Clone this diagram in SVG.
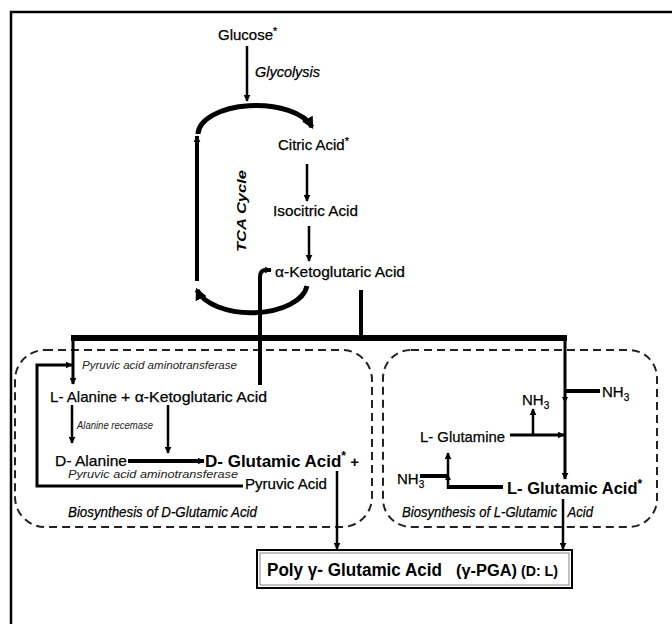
<svg xmlns="http://www.w3.org/2000/svg" width="672" height="624" viewBox="0 0 672 624">
<defs>
<style>
text{font-family:"Liberation Sans",Arial,sans-serif;fill:#000;}
.lab{font-size:15px;stroke:#000;stroke-width:0.25;}
.it{font-style:italic;}
.sm{font-size:10.5px;font-style:italic;fill:#222;}
.bd{font-weight:bold;}
.ln{stroke:#000;fill:none;stroke-linecap:butt;}
.box{stroke:#222;fill:none;stroke-width:2;stroke-dasharray:8 5;}
</style>
<marker id="ah" viewBox="0 0 10 10" refX="9" refY="5" markerUnits="userSpaceOnUse" markerWidth="7" markerHeight="7" orient="auto"><path d="M0,0 L10,5 L0,10 z" fill="#000"/></marker>
<marker id="ahb" viewBox="0 0 10 10" refX="8" refY="5" markerUnits="userSpaceOnUse" markerWidth="12" markerHeight="12" orient="auto"><path d="M0,0 L10,5 L0,10 z" fill="#000"/></marker>
</defs>
<path class="ln" d="M11,624 V12 H672" stroke-width="2.5"/>

<g id="glucose"><text class="lab" x="218" y="40" font-size="14">Glucose<tspan font-size="11" dy="-5">*</tspan></text></g>
<g id="glycolysis"><text class="lab it" x="255" y="77" textLength="65" lengthAdjust="spacingAndGlyphs">Glycolysis</text></g>
<g id="citric"><text class="lab" x="278" y="150" font-size="13.5">Citric Acid<tspan font-size="11" dy="-5">*</tspan></text></g>
<g id="isocitric"><text class="lab" x="273" y="216" textLength="85" lengthAdjust="spacingAndGlyphs">Isocitric Acid</text></g>
<g id="akg"><text class="lab" x="275" y="277" textLength="130" lengthAdjust="spacingAndGlyphs">α-Ketoglutaric Acid</text></g>
<g id="tca"><text class="bd it" font-size="13" transform="translate(246,211) rotate(-90)" text-anchor="middle" textLength="82" lengthAdjust="spacingAndGlyphs">TCA Cycle</text></g>

<g id="dbox">
<rect class="box" x="15" y="350" width="357" height="177" rx="30"/>
<text class="sm" x="82" y="369" textLength="155" lengthAdjust="spacingAndGlyphs">Pyruvic acid aminotransferase</text>
<text class="lab" x="50" y="402" textLength="67" lengthAdjust="spacingAndGlyphs">L- Alanine</text>
<text class="lab" x="121" y="402" textLength="146" lengthAdjust="spacingAndGlyphs">+ α-Ketoglutaric Acid</text>
<text class="sm" x="77" y="429" textLength="76" lengthAdjust="spacingAndGlyphs">Alanine recemase</text>
<text class="lab" x="55" y="466" textLength="72" lengthAdjust="spacingAndGlyphs">D- Alanine</text>
<text class="bd" font-size="17" x="205" y="467">D- Glutamic Acid<tspan font-size="12" dy="-7">*</tspan><tspan font-size="15" dy="7"> +</tspan></text>
<text class="sm" x="68" y="478" textLength="170" lengthAdjust="spacingAndGlyphs">Pyruvic acid aminotransferase</text>
<text class="lab" x="245" y="489" textLength="82" lengthAdjust="spacingAndGlyphs">Pyruvic Acid</text>
<text class="lab it" font-size="13" x="68" y="517" textLength="189" lengthAdjust="spacingAndGlyphs">Biosynthesis of D-Glutamic Acid</text>
</g>

<g id="lbox">
<rect class="box" x="383" y="350" width="274" height="177" rx="28"/>
<text class="lab" x="602" y="397">NH<tspan font-size="10" dy="4">3</tspan></text>
<text class="lab" x="522" y="405">NH<tspan font-size="10" dy="4">3</tspan></text>
<text class="lab" x="420" y="442" textLength="85" lengthAdjust="spacingAndGlyphs">L- Glutamine</text>
<text class="lab" x="397" y="484">NH<tspan font-size="10" dy="4">3</tspan></text>
<text class="bd" font-size="16.5" x="507" y="494">L- Glutamic Acid<tspan font-size="12" dy="-6">*</tspan></text>
<text class="lab it" font-size="13" x="402" y="517" xml:space="preserve" style="white-space:pre" textLength="191" lengthAdjust="spacingAndGlyphs">Biosynthesis of L-Glutamic   Acid</text>
</g>

<g id="pga">
<rect x="257" y="550" width="315" height="38" fill="#fff" stroke="#000" stroke-width="2"/>
<rect x="260" y="553" width="309" height="32" fill="none" stroke="#666" stroke-width="0.8"/>
<text class="bd" font-size="18" x="267" y="576" textLength="175" lengthAdjust="spacingAndGlyphs">Poly γ- Glutamic Acid</text>
<text class="bd" font-size="16" x="456" y="576" textLength="61" lengthAdjust="spacingAndGlyphs">(γ-PGA)</text>
<text class="bd" font-size="14" x="521" y="576" textLength="37" lengthAdjust="spacingAndGlyphs">(D: L)</text>
</g>

<g id="connectors">
<line class="ln" x1="247" y1="46" x2="247" y2="101" stroke-width="2.5" marker-end="url(#ah)"/>
<path class="ln" d="M198,134 A58,29 0 0 1 312,127" stroke-width="5" marker-end="url(#ahb)"/>
<line class="ln" x1="197" y1="281" x2="197" y2="136" stroke-width="4" marker-end="url(#ah)"/>
<path class="ln" d="M307,286 A56,30 0 0 1 197,290" stroke-width="5" marker-end="url(#ahb)"/>
<line class="ln" x1="307" y1="164" x2="307" y2="201" stroke-width="2.5" marker-end="url(#ah)"/>
<line class="ln" x1="309" y1="226" x2="309" y2="261" stroke-width="2.5" marker-end="url(#ah)"/>
<path class="ln" d="M260,385 V277 Q260,270 266,270 H271" stroke-width="4" marker-end="url(#ah)"/>
<line class="ln" x1="361" y1="290" x2="361" y2="340" stroke-width="4"/>
<line class="ln" x1="71" y1="338" x2="567" y2="338" stroke-width="6"/>
<line class="ln" x1="73" y1="338" x2="73" y2="384" stroke-width="3" marker-end="url(#ah)"/>
<line class="ln" x1="565" y1="338" x2="565" y2="479" stroke-width="3" marker-end="url(#ah)"/>
<path class="ln" d="M243,486 H37 V365 H72" stroke-width="3" marker-end="url(#ah)"/>
<line class="ln" x1="72" y1="405" x2="72" y2="443" stroke-width="2.5" marker-end="url(#ah)"/>
<line class="ln" x1="168" y1="405" x2="168" y2="453" stroke-width="2.5" marker-end="url(#ah)"/>
<line class="ln" x1="128" y1="461" x2="204" y2="461" stroke-width="4" marker-end="url(#ah)"/>
<line class="ln" x1="337" y1="471" x2="337" y2="549" stroke-width="2.5" marker-end="url(#ah)"/>
<line class="ln" x1="565" y1="391" x2="600" y2="391" stroke-width="4"/>
<path d="M562,397 L568,397 L565,403 z" fill="#000"/>
<line class="ln" x1="533" y1="435" x2="533" y2="409" stroke-width="2.5" marker-end="url(#ah)"/>
<line class="ln" x1="510" y1="435" x2="564" y2="435" stroke-width="3" marker-end="url(#ah)"/>
<path class="ln" d="M503,487 H448" stroke-width="4"/>
<line class="ln" x1="448" y1="489" x2="448" y2="453" stroke-width="2.5" marker-end="url(#ah)"/>
<line class="ln" x1="420" y1="476" x2="448" y2="476" stroke-width="4"/>
<path d="M445,480 L451,480 L448,474 z" fill="#000"/>
<line class="ln" x1="563" y1="499" x2="563" y2="549" stroke-width="2.5" marker-end="url(#ah)"/>
</g>
</svg>
